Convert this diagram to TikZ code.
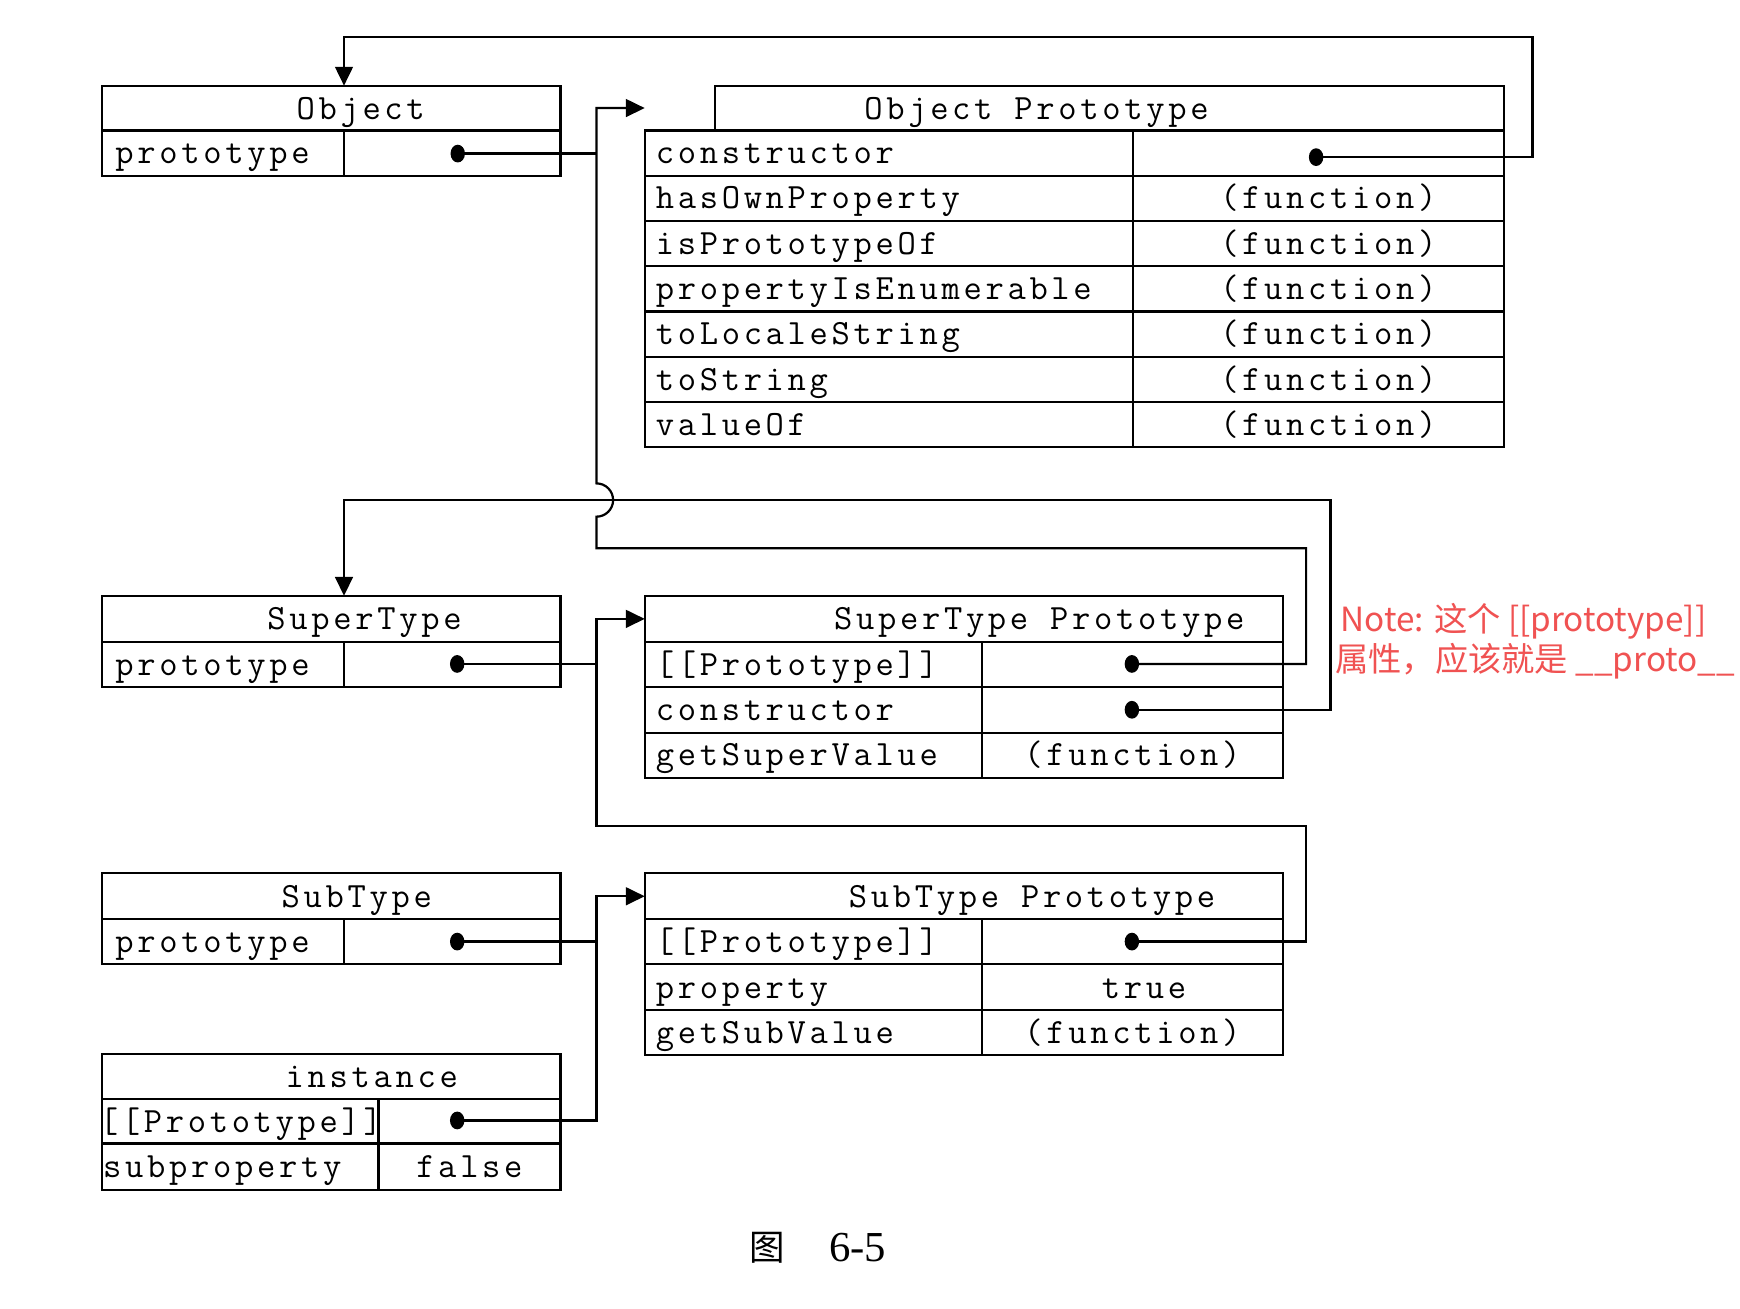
\documentclass[tikz,border=0pt]{standalone}
\usepackage{fontspec}
\usetikzlibrary{arrows.meta,calc,shapes.geometric}
\newfontfamily\codefont[LetterSpace=10.4]{Latin Modern Mono}
\newfontfamily\cjkfont{Noto Sans CJK SC}
\newfontfamily\capfont{Liberation Serif}
\definecolor{notered}{RGB}{240,82,82}
\tikzset{
  box/.style={draw=black, line width=2pt, inner sep=0pt, outer sep=0pt, anchor=north west},
  txt/.style={font=\codefont\fontsize{32}{34}\selectfont, inner sep=0pt, outer sep=0pt},
  dotn/.style={ellipse, fill=black, inner sep=0pt, minimum width=13pt, minimum height=16pt},
  link/.style={line width=2pt},
  arr/.style={link, -{Triangle[length=17pt,width=16pt]}},
  notetxt/.style={font=\cjkfont\fontsize{30}{36}\selectfont, text=notered, inner sep=0pt, anchor=base west},
}
\newcommand\cellbox[5]{\node[box, minimum width={(#4-#2)*1pt}, minimum height={(#5-#3)*1pt}] (#1) at (#2,#3) {};}
\begin{document}
\begin{tikzpicture}[x=1pt,y=-1pt]
\useasboundingbox (0,0) rectangle (1568,1178.7);
\fill[white] (0,0) rectangle (1568,1178.7);

% ---------- Object ----------
\cellbox{objH}{92}{77.2}{505}{117.5}
\cellbox{objK}{92}{117.5}{310}{158.3}
\cellbox{objV}{310}{117.5}{505}{158.3}
\node[txt, anchor=base] (objT) at (325,107.8) {Object};
\node[txt, anchor=base west] (objP) at (104,147.5) {prototype};
\node[dotn] (dObj) at (412.5,138.4) {};

% ---------- Object Prototype ----------
\cellbox{opH}{644}{77.2}{1355}{117.5}
\node[txt, anchor=base] (opT) at (934,107.8) {Object Prototype};
\foreach \i/\k/\v in {0/constructor/,1/hasOwnProperty/(function),2/isPrototypeOf/(function),3/propertyIsEnumerable/(function),4/toLocaleString/(function),5/toString/(function),6/valueOf/(function)}{
  \pgfmathsetmacro\yt{117.5+40.8*\i}
  \pgfmathsetmacro\yb{117.5+40.8*(\i+1)}
  \pgfmathsetmacro\ybase{\yt+30}
  \cellbox{opK\i}{581}{\yt}{1021}{\yb}
  \cellbox{opV\i}{1021}{\yt}{1355}{\yb}
  \node[txt, anchor=base west] (opKt\i) at (591,\ybase) {\k};
  \node[txt, anchor=base] (opVt\i) at (1197,\ybase) {\v};
}
\node[dotn] (dOpc) at (1186,141.6) {};

% ---------- SuperType ----------
\cellbox{stH}{92}{536.9}{505}{578.5}
\cellbox{stK}{92}{578.5}{310}{619.4}
\cellbox{stV}{310}{578.5}{505}{619.4}
\node[txt, anchor=base] (stT) at (328.5,567.5) {SuperType};
\node[txt, anchor=base west] (stP) at (104,608.5) {prototype};
\node[dotn] (dSt) at (412,598.3) {};

% ---------- SuperType Prototype ----------
\cellbox{stpH}{581}{536.9}{1156}{578.5}
\node[txt, anchor=base] (stpT) at (936.5,567.5) {SuperType Prototype};
\foreach \i/\k/\v/\yt/\yb in {0/[[Prototype]]//578.5/619.4,1/constructor//619.4/660.2,2/getSuperValue/(function)/660.2/701.1}{
  \pgfmathsetmacro\ybase{\yt+30}
  \cellbox{stpK\i}{581}{\yt}{885}{\yb}
  \cellbox{stpV\i}{885}{\yt}{1156}{\yb}
  \node[txt, anchor=base west] (stpKt\i) at (591,\ybase) {\k};
  \node[txt, anchor=base] (stpVt\i) at (1020.5,\ybase) {\v};
}
\node[dotn] (dStp1) at (1020,598.3) {};
\node[dotn] (dStpc) at (1020,639.6) {};

% ---------- SubType ----------
\cellbox{sbH}{92}{787}{505}{828.3}
\cellbox{sbK}{92}{828.3}{310}{869}
\cellbox{sbV}{310}{828.3}{505}{869}
\node[txt, anchor=base] (sbT) at (321.5,817.8) {SubType};
\node[txt, anchor=base west] (sbP) at (104,858.5) {prototype};
\node[dotn] (dSb) at (412,848.5) {};

% ---------- SubType Prototype ----------
\cellbox{sbpH}{581}{787}{1156}{828.3}
\node[txt, anchor=base] (sbpT) at (930,817.8) {SubType Prototype};
\cellbox{sbpK0}{581}{828.3}{885}{869}
\cellbox{sbpV0}{885}{828.3}{1156}{869}
\cellbox{sbpK1}{581}{869}{885}{910}
\cellbox{sbpV1}{885}{869}{1156}{910}
\cellbox{sbpK2}{581}{910}{885}{950.9}
\cellbox{sbpV2}{885}{910}{1156}{950.9}
\node[txt, anchor=base west] (sbpKt0) at (591,858.5) {[[Prototype]]};
\node[txt, anchor=base west] (sbpKt1) at (591,899.5) {property};
\node[txt, anchor=base west] (sbpKt2) at (591,940.5) {getSubValue};
\node[txt, anchor=base] (sbpVt1) at (1031,899.5) {true};
\node[txt, anchor=base] (sbpVt2) at (1020.5,940.5) {(function)};
\node[dotn] (dSbp1) at (1020,848.5) {};

% ---------- instance ----------
\cellbox{inH}{92}{949.6}{505}{990.4}
\cellbox{inK0}{92}{990.4}{341}{1030.4}
\cellbox{inV0}{341}{990.4}{505}{1030.4}
\cellbox{inK1}{92}{1030.4}{341}{1072}
\cellbox{inV1}{341}{1030.4}{505}{1072}
\node[txt, anchor=base] (inT) at (335,980.2) {instance};
\node[txt, anchor=base west] (inKt0) at (90,1020.4) {[[Prototype]]};
\node[txt, anchor=base west] (inKt1) at (93,1061) {subproperty};
\node[txt, anchor=base] (inVt1) at (423,1061) {false};
\node[dotn] (dIn) at (412,1009.7) {};

% ---------- routing lanes ----------
\coordinate (bus) at (537.5,0);
\coordinate (laneA) at (1177,0);
\coordinate (laneB) at (1199,0);
\coordinate (laneC) at (1381,0);
\coordinate (topY) at (0,33.1);
\coordinate (midY) at (0,450.6);
\coordinate (lowY) at (0,494);
\coordinate (subY) at (0,744.5);

% ---------- connectors ----------
\draw[link] (dObj.center) -- (dObj -| bus);
\draw[arr] (dStp1.center) -- (dStp1 -| laneA) -- (laneA |- lowY) -- (bus |- lowY)
  -- ($(bus |- midY)+(0,15)$) arc[start angle=90,end angle=-90,radius=15]
  -- (bus |- opH.west) -- (opK0.west |- opH.west);
\draw[arr] (dOpc.center) -- (dOpc -| laneC) -- (laneC |- topY) -- (objV.north west |- topY) -- (objV.north west |- objH.north);
\draw[arr] (dStpc.center) -- (dStpc -| laneB) -- (laneB |- midY) -- (stV.north west |- midY) -- (stV.north west |- stH.north);
\draw[link] (dSt.center) -- (dSt -| bus);
\draw[arr] (dSbp1.center) -- (dSbp1 -| laneA) -- (laneA |- subY) -- (bus |- subY) -- (bus |- stpH.west) -- (stpH.west);
\draw[link] (dSb.center) -- (dSb -| bus);
\draw[arr] (dIn.center) -- (dIn -| bus) -- (bus |- sbpH.west) -- (sbpH.west);

% ---------- note ----------
\node[notetxt] (note1) at (1208,569) {Note: 这个 [[prototype]]};
\node[notetxt] (note2) at (1203,605) {属性，应该就是 \_\_proto\_\_};

% ---------- caption ----------
\node[anchor=base west, inner sep=0pt, font=\cjkfont\fontsize{32}{36}\selectfont] (cap1) at (675,1136) {图};
\node[anchor=base west, inner sep=0pt, font=\capfont\fontsize{38.5}{42}\selectfont] (cap2) at (747,1137) {6-5};
\end{tikzpicture}
\end{document}
